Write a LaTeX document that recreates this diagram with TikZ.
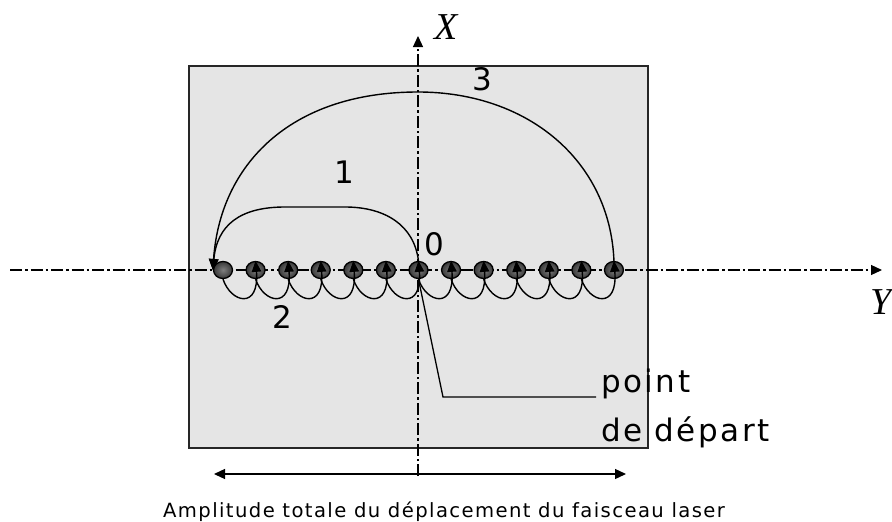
\documentclass[tikz,border=0pt]{standalone}
\usepackage{xcolor}
\usepackage{fontspec}
\setmainfont{DejaVu Sans}
\newfontfamily\axisfont{Liberation Serif}
\newfontfamily\widefont[LetterSpace=8]{DejaVu Sans}
\newfontfamily\captionfont[LetterSpace=7.2]{DejaVu Sans}
\usetikzlibrary{shapes.geometric,arrows,arrows.meta,positioning,calc}
\definecolor{panelgray}{RGB}{229,229,229}

\begin{document}
\begin{tikzpicture}[
    x=1pt, y=-1pt,
    beam/.style={ellipse, draw=black, line width=1.3pt, inner sep=0pt, minimum width=19pt, minimum height=17pt, inner color=black!50, outer color=black!78},
    axis/.style={-{Triangle[length=11pt,width=10pt]}, line width=1.2pt, dash pattern=on 12pt off 3pt on 2.5pt off 3pt},
    sweep/.style={-{Triangle[length=11pt,width=9.5pt]}, line width=1.4pt},
    span/.style={{Triangle[length=11pt,width=10pt]}-{Triangle[length=11pt,width=10pt]}, line width=1.3pt},
    mark label/.style={font=\fontsize{31}{31}\selectfont, inner sep=0pt},
    start label/.style={font=\widefont\fontsize{31}{31}\selectfont, inner sep=0pt, anchor=base west}
]
\useasboundingbox (0,0) rectangle (892,522);

\node[rectangle, draw=black!85, fill=panelgray, line width=1.2pt, minimum width=459pt, minimum height=382pt, inner sep=0pt] (panel) at (418.5,257) {};

% axes
\coordinate (ystart) at (10,270);
\coordinate (yend) at (882,270);
\coordinate (xstart) at (418,476);
\coordinate (xend) at (418,36);
\draw[axis] (ystart) -- (yend);
\draw[axis] (xstart) -- (xend);

% beam positions
\foreach \i in {0,...,12}
    \node[beam] (d\i) at ({223+\i*32.58},270) {};

% small loops
\foreach \i [count=\j from 1] in {0,...,11}
    \draw[sweep] (d\i.south) .. controls +(8,24) and +(4,49) .. (d\j.north);

% large sweeps
\draw[sweep] (d6.north) .. controls (414,225) and (385,207) .. (345,207) -- (285,207) .. controls (240,207) and (217,225) .. (d0.west);
\draw[sweep] (d12.north) .. controls +(-4,-100) and +(110,0) .. (418,92) .. controls (290,92) and (220,165) .. (d0.west);

% leader of the start point
\coordinate (leadbend) at (443,397);
\coordinate (leadend) at (596,397);
\draw[line width=1.3pt] (d6.south) -- (leadbend) -- (leadend);

\draw[span] (214,474) -- (626,474);

\node[mark label] (n0) at (434,244) {0};
\node[mark label] (n1) at (344,172) {1};
\node[mark label] (n2) at (282,317) {2};
\node[mark label] (n3) at (482,79) {3};
\node[inner sep=0pt, font=\axisfont\itshape\fontsize{38}{38}\selectfont] (xlabel) at (446,27) {X};
\node[inner sep=0pt, font=\axisfont\itshape\fontsize{38}{38}\selectfont, anchor=east] (ylabel) at (892,302) {Y};
\node[start label] (point) at (601,392) {point};
\node[start label] (depart) at (601,441) {de départ};
\node[inner sep=0pt, anchor=base, font=\captionfont\fontsize{19.6}{20}\selectfont] (caption) at (444,517) {Amplitude totale du déplacement du faisceau laser};
\end{tikzpicture}
\end{document}
